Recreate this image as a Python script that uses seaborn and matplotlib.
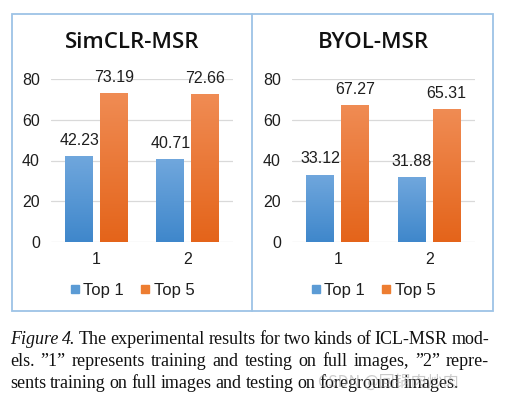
import numpy as np
import pandas as pd
import seaborn as sns
import matplotlib
matplotlib.use("Agg")
import matplotlib.pyplot as plt
from matplotlib.colors import LinearSegmentedColormap
from matplotlib.patches import Rectangle
from matplotlib.lines import Line2D

# data
settings = ["1", "2"]
series = ["Top 1", "Top 5"]
simclr_top1 = [42.23, 40.71]
simclr_top5 = [73.19, 72.66]
byol_top1 = [33.12, 31.88]
byol_top5 = [67.27, 65.31]
titles = ["SimCLR-MSR", "BYOL-MSR"]
yticks = [0, 20, 40, 60, 80]

caption_lines = [
    [("Figure", "italic"), ("4.", "italic"), ("The", "normal"), ("experimental", "normal"),
     ("results", "normal"), ("for", "normal"), ("two", "normal"), ("kinds", "normal"),
     ("of", "normal"), ("ICL-MSR", "normal"), ("mod-", "normal")],
    [(w, "normal") for w in "els. \u201d1\u201d represents training and testing on full images, \u201d2\u201d repre-".split()],
    [(w, "normal") for w in "sents training on full images and testing on foreground images.".split()],
]

sns.set_theme(style="white")
plt.rcParams["font.family"] = ["Liberation Sans", "DejaVu Sans"]

W, H = 505, 403
fig = plt.figure(figsize=(W / 100, H / 100), dpi=100)

blue_cm = LinearSegmentedColormap.from_list("b", ["#3f87cb", "#70a7dd"])
orange_cm = LinearSegmentedColormap.from_list("o", ["#e4641a", "#f08c54"])
palette = {"Top 1": "#5b9bd5", "Top 5": "#ed7d31"}
txt = "#1e1e1e"


def px(x0, y0, w, h):
    return [x0 / W, 1 - (y0 + h) / H, w / W, h / H]


panels = [
    (simclr_top1, simclr_top5, px(51, 79, 182, 163), 132),
    (byol_top1, byol_top5, px(292, 79, 183, 163), 373),
]

for (t1, t5, rect, cx), title in zip(panels, titles):
    df = pd.DataFrame({
        "setting": settings * 2,
        "series": [series[0]] * 2 + [series[1]] * 2,
        "value": t1 + t5,
    })
    ax = fig.add_axes(rect)
    sns.barplot(data=df, x="setting", y="value", hue="series", palette=palette,
                width=0.76, gap=0.2, ax=ax, legend=False, saturation=1)
    ax.set_yticks(yticks)
    ax.yaxis.grid(True, color="#d9d9d9", linewidth=0.9)
    ax.set_axisbelow(True)
    for s in ax.spines.values():
        s.set_visible(False)
    ax.set_xlabel("")
    ax.set_ylabel("")
    ax.tick_params(axis="y", length=0, pad=8, labelsize=11.5, labelcolor=txt)
    ax.tick_params(axis="x", length=0, pad=7, labelsize=11.5, labelcolor=txt)

    # gradient fill clipped to each bar
    for cont, cmap in zip(ax.containers, [blue_cm, orange_cm]):
        for p in cont.patches:
            x0, y0 = p.get_x(), p.get_y()
            w, h = p.get_width(), p.get_height()
            grad = np.linspace(0, 1, 256).reshape(-1, 1)
            im = ax.imshow(grad, cmap=cmap, aspect="auto", origin="lower",
                           extent=[x0, x0 + w, y0, y0 + h], zorder=2)
            im.set_clip_path(p)
            p.set_facecolor("none")
            p.set_edgecolor("none")
        ax.bar_label(cont, fmt="%.2f", padding=6, fontsize=11.5, color=txt)
    ax.set_xlim(-0.5, 1.5)
    ax.set_ylim(0, 80)

    fig.text(cx / W, 1 - 43 / H, title, ha="center", va="center", fontsize=16,
             fontweight="semibold", family=["Open Sans", "DejaVu Sans"], color="#111111")

    handles = [Line2D([], [], marker="s", linestyle="", markersize=6,
                      color=palette[s]) for s in series]
    fig.legend(handles, series, loc="center", bbox_to_anchor=(cx / W, 1 - 290 / H),
               ncol=2, frameon=False, fontsize=12, handlelength=0.6,
               handletextpad=0.2, columnspacing=1.0, labelcolor=txt)

# blue frame around both panels
fig.patches.append(Rectangle((12 / W, 1 - 311 / H), 481 / W, 297 / H,
                             transform=fig.transFigure, fill=False,
                             edgecolor="#9dc3e6", linewidth=1.3))
fig.lines.append(Line2D([252 / W, 252 / W], [1 - 311 / H, 1 - 14 / H],
                        transform=fig.transFigure, color="#9dc3e6", linewidth=1.3))

# justified caption
renderer = fig.canvas.get_renderer()
left, right = 10, 489
baselines = [344, 366, 388]
for i, (line, yb) in enumerate(zip(caption_lines, baselines)):
    texts = []
    for word, style in line:
        t = fig.text(0, 1 - yb / H, word, fontsize=13.0, style=style,
                     family=["Liberation Serif", "DejaVu Serif"], color="#111111",
                     ha="left", va="baseline")
        texts.append(t)
    widths = [t.get_window_extent(renderer).width for t in texts]
    gap = (right - left - sum(widths)) / (len(texts) - 1)
    if i == len(caption_lines) - 1:
        gap = min(gap, 4.0)
    x = left
    for t, w in zip(texts, widths):
        t.set_x(x / W)
        x += w + gap

fig.text(318 / W, 1 - 382 / H, "CSDN @回锅肉炒肉", fontsize=11.5, color="#999999",
         alpha=0.5, family=["Noto Sans CJK SC", "DejaVu Sans"], va="center")

fig.savefig("out.png", dpi=100)
